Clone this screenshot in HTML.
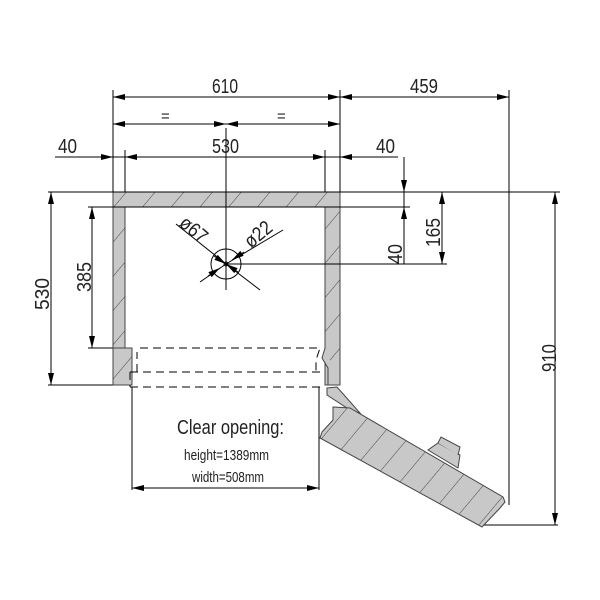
<!DOCTYPE html>
<html><head><meta charset="utf-8"><style>
html,body{margin:0;padding:0;background:#fff;width:600px;height:600px;overflow:hidden}
text{font-family:"Liberation Sans",sans-serif;fill:#222}
</style></head><body>
<svg width="600" height="600" viewBox="0 0 600 600" xmlns="http://www.w3.org/2000/svg">
<defs>
<marker id="a" markerWidth="12" markerHeight="6" refX="12" refY="3" orient="auto-start-reverse" markerUnits="userSpaceOnUse"><path d="M0,0L12,3L0,6z" fill="#000"/></marker>
<pattern id="h" width="22" height="22" patternUnits="userSpaceOnUse" patternTransform="rotate(40)"><rect width="22" height="22" fill="#c8c8c8"/><line x1="0" y1="0" x2="0" y2="22" stroke="#444" stroke-width="1"/></pattern>
</defs>
<g stroke="#000" stroke-width="1" fill="none">
<path d="M113,192H340V385H325V207H125V385H113Z" fill="url(#h)" stroke="#444"/>
<line x1="113" y1="90" x2="113" y2="192"/>
<line x1="340" y1="90" x2="340" y2="192"/>
<line x1="125" y1="150" x2="125" y2="192"/>
<line x1="325" y1="150" x2="325" y2="192"/>
<line x1="509" y1="90" x2="509" y2="505"/>
<line x1="226" y1="128" x2="226" y2="290"/>
<line x1="48" y1="192" x2="560" y2="192"/>
<line x1="88" y1="207" x2="410" y2="207"/>
<line x1="226" y1="264" x2="447" y2="264"/>
<line x1="88" y1="348" x2="113" y2="348"/>
<line x1="48" y1="385" x2="113" y2="385"/>
<line x1="113" y1="97" x2="340" y2="97" marker-start="url(#a)" marker-end="url(#a)"/>
<line x1="340" y1="97" x2="509" y2="97" marker-start="url(#a)" marker-end="url(#a)"/>
<line x1="113" y1="124" x2="226" y2="124" marker-start="url(#a)" marker-end="url(#a)"/>
<line x1="226" y1="124" x2="340" y2="124" marker-start="url(#a)" marker-end="url(#a)"/>
<line x1="55" y1="157" x2="398" y2="157"/>
<line x1="95" y1="157" x2="113" y2="157" marker-end="url(#a)"/>
<line x1="140" y1="157" x2="125" y2="157" marker-end="url(#a)"/>
<line x1="310" y1="157" x2="325" y2="157" marker-end="url(#a)"/>
<line x1="355" y1="157" x2="340" y2="157" marker-end="url(#a)"/>
<line x1="404" y1="170" x2="404" y2="192" marker-end="url(#a)"/>
<line x1="404" y1="157" x2="404" y2="264"/>
<line x1="404" y1="222" x2="404" y2="207" marker-end="url(#a)"/>
<line x1="442" y1="192" x2="442" y2="264" marker-start="url(#a)" marker-end="url(#a)"/>
<line x1="555" y1="192" x2="555" y2="525" marker-start="url(#a)" marker-end="url(#a)"/>
<line x1="482" y1="525" x2="558" y2="525"/>
<line x1="92" y1="207" x2="92" y2="348" marker-start="url(#a)" marker-end="url(#a)"/>
<line x1="51" y1="192" x2="51" y2="385" marker-start="url(#a)" marker-end="url(#a)"/>
<circle cx="226" cy="264" r="15"/>
<circle cx="226" cy="264" r="2"/>
<line x1="176" y1="224" x2="226" y2="264" />
<line x1="200" y1="282" x2="226" y2="264"/>
<line x1="214" y1="256" x2="226" y2="264" marker-end="url(#a)"/>
<line x1="238" y1="272" x2="226" y2="264" marker-end="url(#a)"/>
<line x1="283" y1="230" x2="226" y2="264"/>
<line x1="260" y1="290" x2="226" y2="264"/>
<line x1="244" y1="252" x2="232" y2="260" marker-end="url(#a)"/>
<line x1="208" y1="276" x2="220" y2="268" marker-end="url(#a)"/>
<path d="M113,348H132V385H113Z" fill="url(#h)" stroke="#444"/>
<path d="M325,348L322,358L328,368V385H340" fill="#c8c8c8" stroke="#444"/>
<path d="M140,348H320L316,360V372M137,372V352" stroke-dasharray="8,5"/>
<path d="M130,372H322M130,387H320M130,372V387" stroke-dasharray="8,5"/>
<line x1="132" y1="387" x2="132" y2="490"/>
<line x1="319" y1="387" x2="319" y2="490"/>
<line x1="132" y1="488" x2="319" y2="488" marker-start="url(#a)" marker-end="url(#a)"/>
<path d="M327,388L337,387L360,413L350,410L327,395Z" fill="#c8c8c8" stroke="#444"/>
<path d="M333,407L350,408L503,497L505,502L500,508L482,527L320,438L322,432L333,420Z" fill="url(#h)" stroke="#444"/>
<path d="M428,450L458,468L460,455L438,443Z" fill="#c8c8c8" stroke="#444"/>
<path d="M438,443L441,437L460,447L458,455" fill="#c8c8c8" stroke="#444"/>
</g>
<g font-size="20">
<text x="212" y="93" textLength="26" lengthAdjust="spacingAndGlyphs">610</text>
<text x="410" y="93" textLength="28" lengthAdjust="spacingAndGlyphs">459</text>
<text x="212" y="153" textLength="27" lengthAdjust="spacingAndGlyphs">530</text>
<text x="58" y="153" textLength="19" lengthAdjust="spacingAndGlyphs">40</text>
<text x="376" y="153" textLength="19" lengthAdjust="spacingAndGlyphs">40</text>
<text x="161" y="121" font-size="15">=</text>
<text x="277" y="121" font-size="15">=</text>
<text transform="translate(440,247) rotate(-90)" textLength="29" lengthAdjust="spacingAndGlyphs">165</text>
<text transform="translate(402,264) rotate(-90)" textLength="20" lengthAdjust="spacingAndGlyphs">40</text>
<text transform="translate(91,292) rotate(-90)" textLength="30" lengthAdjust="spacingAndGlyphs">385</text>
<text transform="translate(49,310) rotate(-90)" textLength="32" lengthAdjust="spacingAndGlyphs">530</text>
<text transform="translate(556,372) rotate(-90)" textLength="28" lengthAdjust="spacingAndGlyphs">910</text>
<text transform="translate(178,225) rotate(40)" textLength="30" lengthAdjust="spacingAndGlyphs">ø67</text>
<text transform="translate(251,249) rotate(-40)" textLength="30" lengthAdjust="spacingAndGlyphs">ø22</text>
<text x="177" y="434" textLength="107" lengthAdjust="spacingAndGlyphs">Clear opening:</text>
</g>
<text x="184" y="460" font-size="15" textLength="85" lengthAdjust="spacingAndGlyphs">height=1389mm</text>
<text x="192" y="482" font-size="15" textLength="72" lengthAdjust="spacingAndGlyphs">width=508mm</text>
</svg>
</body></html>
